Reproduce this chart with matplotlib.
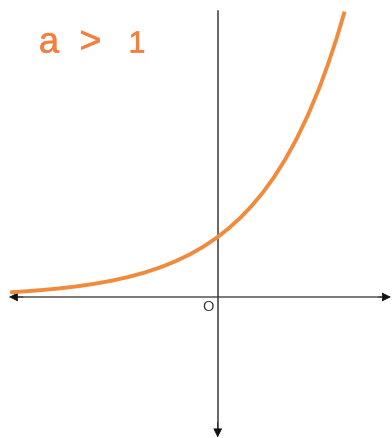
import matplotlib
matplotlib.use("Agg")
import matplotlib.pyplot as plt
import matplotlib.patheffects as pe

# curve y = a^x (a > 1)
curve_x = [-3.68, -3.4, -3.1, -2.8, -2.5, -2.2, -1.9, -1.6, -1.3, -1.0, -0.75, -0.5,
           -0.25, 0.0, 0.2, 0.4, 0.6, 0.8, 1.0, 1.2, 1.4, 1.6, 1.8, 1.95, 2.1, 2.25]
curve_y = [0.078, 0.095, 0.117, 0.144, 0.177, 0.218, 0.268, 0.330, 0.406, 0.500, 0.595, 0.707,
           0.841, 1.000, 1.149, 1.320, 1.516, 1.741, 2.000, 2.297, 2.639, 3.031, 3.482, 3.864, 4.287, 4.757]

title_parts = ["a", ">", "1"]
origin_label = "O"

fig = plt.figure(figsize=(3.92, 4.38), dpi=100)
ax = fig.add_axes([0, 0, 1, 1])
ax.set_xlim(-3.86, 3.09)
ax.set_ylim(-2.35, 4.95)
ax.axis("off")

axis_col = "#555555"
head_col = "#111111"
# axis lines
ax.plot([-3.62, 3.0], [0, 0], color=axis_col, lw=1.1)
ax.plot([0, 0], [4.77, -2.25], color="#3a3a3a", lw=1.1)

def head(tip, tail):
    ax.annotate("", xy=tip, xytext=tail,
                arrowprops=dict(arrowstyle="-|>", color=head_col, lw=0.5,
                                mutation_scale=14, shrinkA=0, shrinkB=0))

head((-3.70, 0), (-3.45, 0))
head((3.07, 0), (2.85, 0))
head((0, -2.34), (0, -2.10))

ax.plot(curve_x, curve_y, color="#F28A3C", lw=2.8, solid_capstyle="butt", zorder=3)

orange = "#F47F3E"
fx = [pe.withStroke(linewidth=0.4, foreground=orange)]
base = 1 - 52.5 / 438
ax.text(49 / 392, base, title_parts[0], transform=ax.transAxes, color=orange,
        fontsize=26, family="Liberation Sans", ha="center", va="baseline", path_effects=fx)
ax.text(90.5 / 392, base, title_parts[1], transform=ax.transAxes, color=orange,
        fontsize=27, family="Liberation Sans", ha="center", va="baseline", path_effects=fx)
ax.text(137 / 392, base, title_parts[2], transform=ax.transAxes, color=orange,
        fontsize=22, family="Liberation Sans", ha="center", va="baseline", path_effects=fx)

ax.text(-0.17, -0.05, origin_label, color="#333333", fontsize=10.5,
        family="Liberation Sans", ha="center", va="top")

fig.savefig("out.png", dpi=100)
